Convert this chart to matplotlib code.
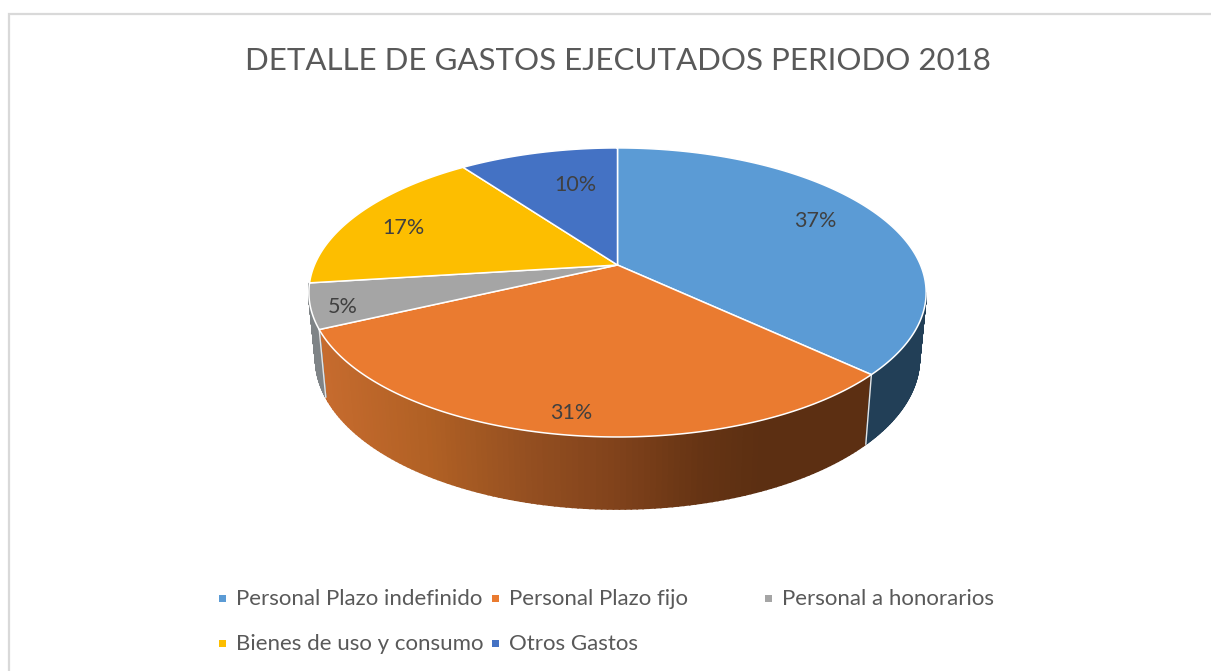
import numpy as np
import matplotlib
matplotlib.use("Agg")
import matplotlib.pyplot as plt
from matplotlib.patches import Polygon, Rectangle

title = "DETALLE DE GASTOS EJECUTADOS PERIODO 2018"
categories = ["Personal Plazo indefinido", "Personal Plazo fijo", "Personal a honorarios",
              "Bienes de uso y consumo", "Otros Gastos"]
values = [37, 31, 5, 17, 10]
colors = ["#5B9BD5", "#EA7B30", "#A5A5A5", "#FDBE00", "#4472C4"]

# layout (pixels in the 1211x671 canvas)
label_xy = [(815, 221), (571, 413), (343, 307), (403, 228), (575, 185)]
legend_xy = [(222, 598), (495, 598), (768, 598), (222, 643), (495, 643)]
CX, CY, A, B, K = 617.5, 265, 139.3, 303, 0.19
S, Y0, A2 = 0.978, 330, 145
FONT = "Lato"

plt.rcParams["font.family"] = [FONT, "DejaVu Sans"]
fig = plt.figure(figsize=(12.11, 6.71), dpi=100)
ax = fig.add_axes([0, 0, 1, 1])
ax.set_xlim(0, 1211)
ax.set_ylim(671, 0)
ax.axis("off")


def top(theta, r=1.0):
    u, v = r * np.sin(theta), r * np.cos(theta)
    d = 1 + K * v
    return CX + B * u / d, CY - A * v / d


def bottom(theta):
    u, v = np.sin(theta), np.cos(theta)
    d = 1 + K * v
    return CX + S * B * u / d, Y0 - A2 * v / d


# chart frame
ax.plot([9, 9, 1211], [671, 14, 14], color="#D9D9D9", lw=1.6, solid_joinstyle="miter", zorder=1)

edges = np.radians(np.cumsum([0] + values) / sum(values) * 360)


def side(t0, t1, col_fn, n=120):
    ts = np.linspace(t0, t1, n + 1)
    for a, b in zip(ts[:-1], ts[1:]):
        xa, ya = top(a)
        xb, yb = top(b)
        xc, yc = bottom(b)
        xd, yd = bottom(a)
        c = col_fn((xa + xb) / 2)
        ax.add_patch(Polygon([(xa, ya), (xb, yb), (xc, yc), (xd, yd)], closed=True,
                             facecolor=c, edgecolor=c, lw=1.2, zorder=2))


def orange_col(x):
    xs = [322, 430, 520, 617, 700, 760, 880]
    rgb = np.array([[198, 107, 46], [176, 96, 36], [150, 80, 33], [128, 66, 27],
                    [102, 52, 20], [92, 47, 18], [92, 47, 18]], float)
    return tuple(np.interp(x, xs, rgb[:, i]) / 255 for i in range(3))


side(edges[1], edges[2], orange_col)
side(np.radians(101), edges[1], lambda x: "#223F57")
side(edges[2], edges[3], lambda x: "#7F8487")

# white seams between the side faces
for t in (edges[1], edges[2]):
    x0, y0 = top(t)
    x1, y1 = bottom(t)
    ax.plot([x0, x1], [y0, y1], color="#E4E4E4", lw=1.0, zorder=3)

# top faces
for i, col in enumerate(colors):
    ts = np.linspace(edges[i], edges[i + 1], 200)
    xs, ys = top(ts)
    pts = [(CX, CY)] + list(zip(xs, ys))
    ax.add_patch(Polygon(pts, closed=True, facecolor=col, edgecolor="white", lw=1.1,
                         joinstyle="round", zorder=4))

# data labels
for (x, y), v in zip(label_xy, values):
    ax.text(x, y, f"{v}%", ha="center", va="center", fontsize=15.5, color="#404040", zorder=5)

ax.text(618, 61, title, ha="center", va="center", fontsize=22.5, color="#595959", zorder=5)

# legend
for (x, y), name, col in zip(legend_xy, categories, colors):
    ax.add_patch(Rectangle((x - 3.5, y - 3.5), 7, 7, facecolor=col, edgecolor="none", zorder=5))
    ax.text(x + 14, y + 1, name, ha="left", va="center", fontsize=16, color="#595959", zorder=5)

fig.savefig("out.png", dpi=100, facecolor="white")
